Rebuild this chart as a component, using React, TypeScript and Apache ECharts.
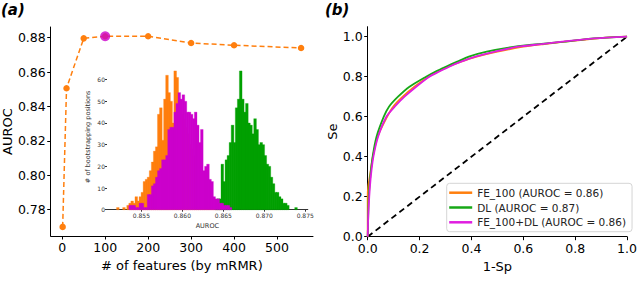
import React, { useEffect, useRef } from "react";
import * as echarts from "echarts";

// ---- Panel (a): AUROC vs number of features ----
const nFeatures = [1, 10, 50, 100, 200, 300, 400, 556];
const meanAuroc = [0.770, 0.8506, 0.8796, 0.8808, 0.8808, 0.8769, 0.8756, 0.874];
const bestIndex = 3;
const aYTicks = [0.78, 0.8, 0.82, 0.84, 0.86, 0.88];
const aXTicks = [0, 100, 200, 300, 400, 500];

// ---- Inset: bootstrapped AUROC histograms ----
const binStart = 0.8515;
const binWidth = 0.00025;
const feOffset = 0;
const feCounts = [0, 0, 1, 0, 0, 1, 0, 2, 3, 4, 3, 6, 4, 6, 8, 13, 14, 15, 18, 22, 27, 29, 44, 47, 32, 51, 62, 54, 50, 40, 64, 61, 50, 44, 42, 38, 35, 30, 28, 25, 22, 18, 15, 12, 10, 8, 6, 5, 3, 2, 2, 1, 1];
const dlOffset = 50;
const dlCounts = [4, 5, 5, 21, 13, 23, 25, 31, 39, 31, 47, 51, 64, 51, 45, 49, 40, 39, 35, 42, 37, 30, 31, 30, 25, 21, 20, 15, 12, 8, 8, 6, 5, 3, 3, 2, 0, 0, 0, 1];
const feDlOffset = 0;
const feDlCounts = [0, 0, 0, 0, 0, 0, 0, 0, 2, 2, 2, 1, 1, 3, 3, 1, 1, 7, 7, 11, 12, 15, 18, 19, 23, 23, 25, 37, 38, 38, 45, 49, 54, 51, 53, 50, 45, 45, 44, 42, 45, 39, 31, 37, 18, 20, 21, 14, 13, 6, 5, 5, 3, 3, 2, 2, 2, 1];
const insetXTicks = [0.855, 0.86, 0.865, 0.87, 0.875];
const insetYTicks = [0, 10, 20, 30, 40, 50, 60];

// ---- Panel (b): ROC curves ----
const feFpr = [0, 0, 0.002, 0.008, 0.02, 0.038, 0.075, 0.098, 0.135, 0.18, 0.235, 0.27, 0.31, 0.36, 0.42, 0.5, 0.6, 0.68, 0.76, 0.84, 0.92, 1];
const feTpr = [0, 0.2, 0.25, 0.3, 0.4, 0.5, 0.6, 0.65, 0.7, 0.75, 0.8, 0.825, 0.85, 0.875, 0.9, 0.925, 0.95, 0.963, 0.975, 0.986, 0.995, 1];
const dlFpr = [0, 0.002, 0.004, 0.01, 0.019, 0.034, 0.062, 0.082, 0.117, 0.161, 0.225, 0.26, 0.301, 0.345, 0.39, 0.459, 0.568, 0.66, 0.759, 0.835, 0.92, 1];
const dlTpr = [0, 0.1, 0.2, 0.3, 0.4, 0.5, 0.6, 0.65, 0.7, 0.75, 0.8, 0.825, 0.85, 0.875, 0.9, 0.925, 0.95, 0.963, 0.975, 0.987, 0.995, 1];
const feDlFpr = [0, 0.002, 0.006, 0.012, 0.022, 0.04, 0.072, 0.104, 0.142, 0.187, 0.2375, 0.275, 0.314, 0.36, 0.415, 0.49, 0.58, 0.67, 0.75, 0.835, 0.92, 1];
const feDlTpr = [0, 0.1, 0.2, 0.3, 0.4, 0.5, 0.6, 0.65, 0.7, 0.75, 0.8, 0.825, 0.85, 0.875, 0.9, 0.925, 0.95, 0.963, 0.975, 0.987, 0.995, 1];
const rocNames = ["FE_100 (AUROC = 0.86)", "DL (AUROC = 0.87)", "FE_100+DL (AUROC = 0.86)"];
const bXTicks = [0, 0.2, 0.4, 0.6, 0.8, 1.0];
const bYTicks = [0, 0.2, 0.4, 0.6, 0.8, 1.0];

const ORANGE = "#ff7f0e";
const GREEN = "#00a000";
const MAGENTA = "#cc00cc";
const FONT = "DejaVu Sans";

const zip = (a: number[], b: number[]) => a.map((v, i) => [v, b[i]]);
const histData = (counts: number[], offset: number) =>
  counts
    .map((c, i) => [binStart + (offset + i) * binWidth, binStart + (offset + i + 1) * binWidth, c])
    .filter((d) => d[2] > 0);

const histSeries = (counts: number[], offset: number, color: string) => ({
  type: "custom",
  xAxisIndex: 1,
  yAxisIndex: 1,
  encode: { x: [0, 1], y: 2 },
  data: histData(counts, offset),
  renderItem: (_p: any, api: any) => {
    const a = api.coord([api.value(0), api.value(2)]);
    const b = api.coord([api.value(1), 0]);
    return {
      type: "rect",
      shape: { x: a[0] - 0.3, y: a[1], width: b[0] - a[0] + 0.6, height: b[1] - a[1] },
      style: { fill: color, stroke: color, lineWidth: 0.3 },
    };
  },
});

export default function App() {
  const ref = useRef<HTMLDivElement>(null);
  useEffect(() => {
    if (!ref.current) return;
    const chart = echarts.init(ref.current, null, { renderer: "svg" });
    const axisLine = { show: true, lineStyle: { color: "#000", width: 1 } };
    const option: any = {
      animation: false,
      backgroundColor: "#fff",
      textStyle: { fontFamily: FONT },
      grid: [
        { left: 50, top: 27, width: 263, height: 209 },
        { left: 107, top: 64, width: 200.7, height: 145.7, show: true, backgroundColor: "#fff", borderWidth: 0 },
        { left: 367.7, top: 26.7, width: 262.3, height: 210 },
      ],
      xAxis: [
        {
          type: "value", gridIndex: 0, min: -26.75, max: 583.75,
          axisLine, splitLine: { show: false },
          axisTick: { customValues: aXTicks, length: 3.5, lineStyle: { color: "#000" } },
          axisLabel: { customValues: aXTicks, fontSize: 12.5, color: "#000", margin: 5, fontFamily: FONT },
          name: "# of features (by mRMR)", nameLocation: "middle", nameGap: 22,
          nameTextStyle: { fontSize: 13, color: "#000", fontFamily: FONT },
        },
        {
          type: "value", gridIndex: 1, min: 0.8508, max: 0.8753,
          axisLine: { show: true, lineStyle: { color: "#333", width: 1.2 } }, splitLine: { show: false },
          axisTick: { customValues: insetXTicks, length: 2, lineStyle: { color: "#333" } },
          axisLabel: { customValues: insetXTicks, fontSize: 6, color: "#333", margin: 3, formatter: (v: number) => v.toFixed(3), fontFamily: FONT },
          name: "AUROC", nameLocation: "middle", nameGap: 13,
          nameTextStyle: { fontSize: 6.5, color: "#333", fontFamily: FONT },
        },
        {
          type: "value", gridIndex: 2, min: 0, max: 1,
          axisLine, splitLine: { show: false },
          axisTick: { customValues: bXTicks, length: 3.5, lineStyle: { color: "#000" } },
          axisLabel: { customValues: bXTicks, fontSize: 12.5, color: "#000", margin: 5, formatter: (v: number) => v.toFixed(1), fontFamily: FONT },
          name: "1-Sp", nameLocation: "middle", nameGap: 22,
          nameTextStyle: { fontSize: 13, color: "#000", fontFamily: FONT },
        },
      ],
      yAxis: [
        {
          type: "value", gridIndex: 0, min: 0.7647, max: 0.8862,
          axisLine: { ...axisLine, onZero: false }, splitLine: { show: false },
          axisTick: { customValues: aYTicks, length: 3.5, lineStyle: { color: "#000" } },
          axisLabel: { customValues: aYTicks, fontSize: 12.5, color: "#000", margin: 5, formatter: (v: number) => v.toFixed(2), fontFamily: FONT },
          name: "AUROC", nameLocation: "middle", nameGap: 33,
          nameTextStyle: { fontSize: 13, color: "#000", fontFamily: FONT },
        },
        {
          type: "value", gridIndex: 1, min: 0, max: 67.2,
          axisLine: { show: false, onZero: false }, splitLine: { show: false },
          axisTick: { show: true, customValues: insetYTicks, length: 2, lineStyle: { color: "#333" } },
          axisLabel: { customValues: insetYTicks, fontSize: 6, color: "#333", margin: 2, fontFamily: FONT },
          name: "# of bootstrapping positions", nameLocation: "middle", nameGap: 16,
          nameTextStyle: { fontSize: 6.5, color: "#333", fontFamily: FONT },
        },
        {
          type: "value", gridIndex: 2, min: 0, max: 1.05,
          axisLine: { ...axisLine, onZero: false }, splitLine: { show: false },
          axisTick: { customValues: bYTicks, length: 3.5, lineStyle: { color: "#000" } },
          axisLabel: { customValues: bYTicks, fontSize: 12.5, color: "#000", margin: 5, formatter: (v: number) => v.toFixed(1), fontFamily: FONT },
          name: "Se", nameLocation: "middle", nameGap: 29,
          nameTextStyle: { fontSize: 13, color: "#000", fontFamily: FONT },
        },
      ],
      legend: {
        data: rocNames,
        orient: "vertical",
        left: 446.7,
        top: 183.3,
        backgroundColor: "#fff",
        borderColor: "#d5d5d5",
        borderWidth: 1,
        borderRadius: 3,
        padding: [3, 6, 3, 2.5],
        itemGap: 2,
        itemWidth: 23,
        itemHeight: 2.5,
        icon: "rect",
        textStyle: { fontSize: 10.5, color: "#222", fontFamily: FONT, lineHeight: 12.8 },
      },
      graphic: [
        { type: "text", left: 1, top: 2, style: { text: "(a)", font: "italic bold 15px 'DejaVu Sans'", fill: "#000" } },
        { type: "text", left: 325, top: 2, style: { text: "(b)", font: "italic bold 15px 'DejaVu Sans'", fill: "#000" } },
      ],
      series: [
        {
          type: "line", xAxisIndex: 0, yAxisIndex: 0,
          data: zip(nFeatures, meanAuroc),
          symbol: "circle", symbolSize: 6.5,
          itemStyle: { color: ORANGE },
          lineStyle: { color: ORANGE, width: 1.5, type: [5, 3] },
          z: 3,
        },
        {
          type: "scatter", xAxisIndex: 0, yAxisIndex: 0,
          data: [[nFeatures[bestIndex], meanAuroc[bestIndex]]],
          symbolSize: 10,
          itemStyle: { color: MAGENTA },
          z: 4,
        },
        histSeries(feCounts, feOffset, ORANGE),
        histSeries(dlCounts, dlOffset, GREEN),
        histSeries(feDlCounts, feDlOffset, MAGENTA),
        {
          type: "line", xAxisIndex: 2, yAxisIndex: 2,
          data: [[0, 0], [1, 1]], symbol: "none",
          lineStyle: { color: "#000", width: 1.8, type: [6, 4] },
        },
        {
          name: rocNames[0], type: "line", xAxisIndex: 2, yAxisIndex: 2,
          data: zip(feFpr, feTpr), symbol: "none", smooth: 0.2,
          itemStyle: { color: ORANGE }, lineStyle: { color: ORANGE, width: 1.8 },
        },
        {
          name: rocNames[1], type: "line", xAxisIndex: 2, yAxisIndex: 2,
          data: zip(dlFpr, dlTpr), symbol: "none", smooth: 0.2,
          itemStyle: { color: "#17a817" }, lineStyle: { color: "#17a817", width: 1.8 },
        },
        {
          name: rocNames[2], type: "line", xAxisIndex: 2, yAxisIndex: 2,
          data: zip(feDlFpr, feDlTpr), symbol: "none", smooth: 0.2,
          itemStyle: { color: "#e01ee0" }, lineStyle: { color: "#e01ee0", width: 1.8 },
        },
      ],
    };
    chart.setOption(option);
    return () => chart.dispose();
  }, []);
  return <div ref={ref} style={{ position: "fixed", left: 0, top: 0, width: 640, height: 299 }} />;
}
